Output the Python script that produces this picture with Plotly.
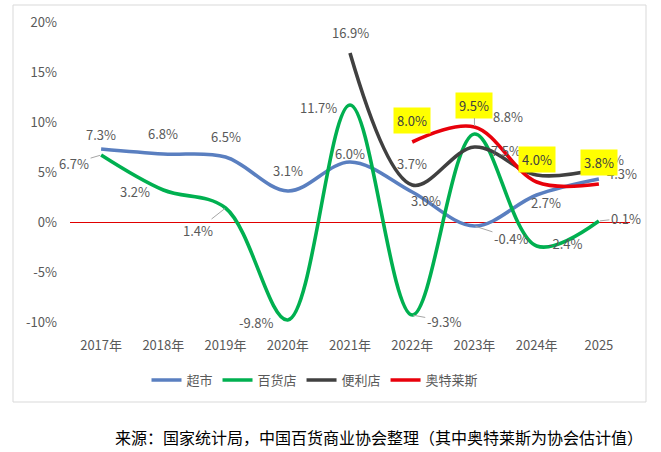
import plotly.graph_objects as go

years = ["2017年", "2018年", "2019年", "2020年", "2021年", "2022年", "2023年", "2024年", "2025"]
supermarket = [7.3, 6.8, 6.5, 3.1, 6.0, 3.0, -0.4, 2.7, 4.3]
department = [6.7, 3.2, 1.4, -9.8, 11.7, -9.3, 8.8, -2.4, 0.1]
convenience = [None, None, None, None, 16.9, 3.7, 7.5, 4.7, 5.3]
outlets = [None, None, None, None, None, 8.0, 9.5, 4.0, 3.8]

names = ["超市", "百货店", "便利店", "奥特莱斯"]
colors = ["#5A7FC0", "#00B050", "#404040", "#E8000B"]
series = [supermarket, department, convenience, outlets]

# label offsets in pixels (dx right, dy up) and whether a leader line is drawn
label_style = {
    0: [(0, 15, 0), (0, 21, 0), (0, 21, 0), (0, 21, 0), (0, 9, 0), (14, -8, 0), (37, -12, 1), (9, -7, 0), (23, 6, 0)],
    1: [(-27, -8, 1), (-28, -1, 0), (-28, -22, 1), (-31, -2, 0), (-32, -2, 0), (32, -6, 1), (34, 18, 0), (29, 3, 0), (27, 3, 1)],
    2: [None, None, None, None, (0, 21, 0), (0, 22, 0), (32, -3, 0), None, (10, 10, 0)],
    3: [None, None, None, None, None, (0, 22, 0), (0, 22, 1), (0, 23, 0), (0, 22, 0)],
}

FONT = "Noto Sans CJK SC, Microsoft YaHei, sans-serif"
W, H = 661, 452
ML, MR, MT, MB = 70, 31, 22, 130

fig = go.Figure()
for name, col, vals in zip(names, colors, series):
    fig.add_trace(go.Scatter(
        x=years, y=vals, name=name, mode="lines",
        line=dict(color=col, width=3.6, shape="spline", smoothing=1.0),
        connectgaps=False,
    ))

annotations = []
for si, vals in enumerate(series):
    for i, v in enumerate(vals):
        st = label_style[si][i]
        if v is None or st is None:
            continue
        dx, dy, leader = st
        a = dict(
            x=i, y=v, xref="x", yref="y",
            text=f"{v:.1f}%", showarrow=True,
            ax=dx, ay=-dy, arrowhead=0, arrowwidth=1,
            arrowcolor="#A6A6A6" if leader else "rgba(0,0,0,0)",
            standoff=1,
            font=dict(family=FONT, size=13, color="#595959"),
        )
        if si == 3:
            a["bgcolor"] = "#FFFF00"
            a["borderpad"] = 3
            a["font"] = dict(family=FONT, size=13, color="#404040")
        annotations.append(a)

def px_x(p):
    return (p - ML) / (W - ML - MR)

def px_y(p):
    return ((H - MB) - p) / (H - MT - MB)

annotations.append(dict(
    text="来源：国家统计局，中国百货商业协会整理（其中奥特莱斯为协会估计值）",
    xref="paper", yref="paper",
    x=px_x(379), y=px_y(437),
    xanchor="center", yanchor="middle", showarrow=False,
    font=dict(family=FONT, size=16, color="#000000"),
))

fig.update_layout(
    width=W, height=H,
    margin=dict(l=ML, r=MR, t=MT, b=MB),
    paper_bgcolor="white", plot_bgcolor="white",
    showlegend=True,
    legend=dict(
        orientation="h", xref="container", yref="container",
        x=315 / W, y=1 - 380 / H, xanchor="center", yanchor="middle",
        font=dict(family=FONT, size=13, color="#595959"),
        itemwidth=30, traceorder="normal",
    ),
    annotations=annotations,
    shapes=[dict(
        type="rect", xref="paper", yref="paper",
        x0=px_x(13), x1=px_x(646), y0=px_y(402), y1=px_y(5),
        line=dict(color="#D9D9D9", width=1), fillcolor="rgba(0,0,0,0)",
        layer="below",
    )],
    xaxis=dict(
        type="category", categoryorder="array", categoryarray=years,
        range=[-0.5, 8.5], showgrid=False, showline=False, zeroline=False,
        ticks="", tickfont=dict(family=FONT, size=13, color="#595959"),
        ticklabelstandoff=14,
    ),
    yaxis=dict(
        range=[-10, 20], tickvals=[-10, -5, 0, 5, 10, 15, 20],
        ticktext=["-10%", "-5%", "0%", "5%", "10%", "15%", "20%"],
        showgrid=False, showline=False,
        zeroline=True, zerolinecolor="#E00000", zerolinewidth=1,
        ticks="", tickfont=dict(family=FONT, size=13, color="#595959"),
        ticklabelstandoff=12,
    ),
)

fig.write_html("out.html")
